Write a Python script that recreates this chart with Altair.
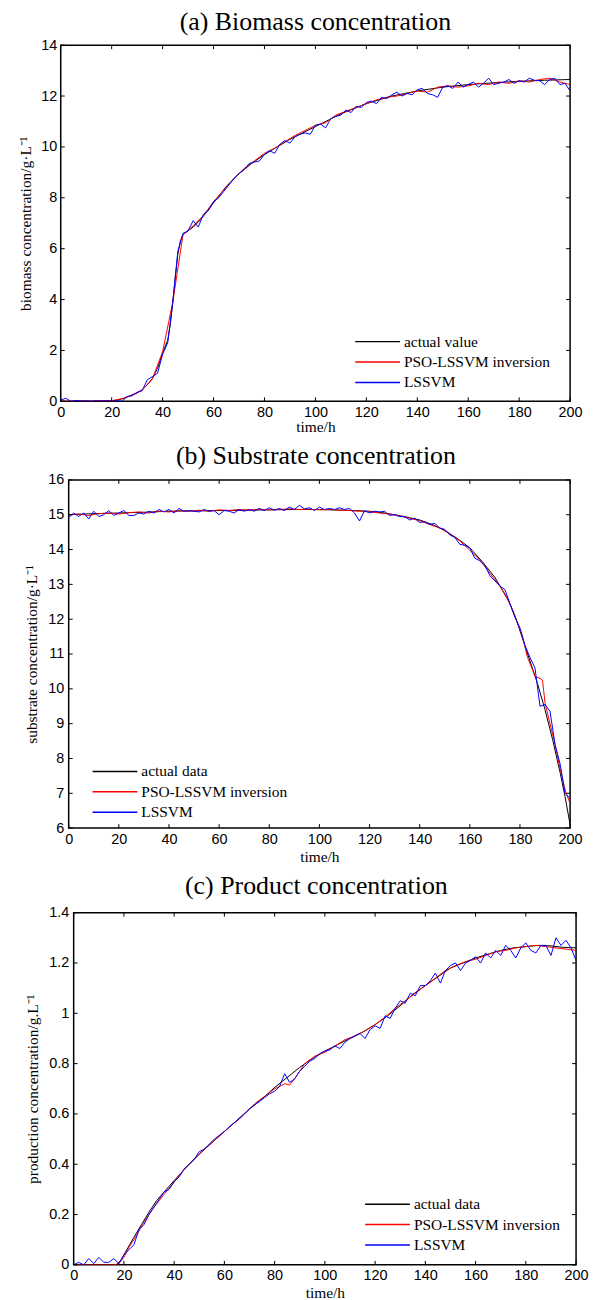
import altair as alt
import pandas as pd

X_TICKS = [0, 20, 40, 60, 80, 100, 120, 140, 160, 180, 200]
COLORS = ["#000000", "#ff0000", "#0000ff"]
NAMES_A = ["actual value", "PSO-LSSVM inversion", "LSSVM"]
NAMES_BC = ["actual data", "PSO-LSSVM inversion", "LSSVM"]

# ---------------- (a) biomass ----------------
A_Y_TICKS = [0, 2, 4, 6, 8, 10, 12, 14]
A_ACT_T = [0, 10, 20, 22, 25, 28, 30, 32, 34, 36, 38, 40, 42, 43, 44, 45, 46, 47, 48, 50,
           52, 55, 57, 60, 65, 70, 75, 80, 85, 90, 95, 100, 105, 110, 115, 120, 125, 130, 135, 140,
           150, 160, 170, 180, 190, 200]
A_ACT_V = [0, 0, 0.02, 0.05, 0.12, 0.25, 0.33, 0.45, 0.65, 0.9, 1.3, 1.9, 2.4, 3.0, 3.9, 4.9, 5.8, 6.3, 6.55, 6.7,
           6.85, 7.15, 7.4, 7.8, 8.45, 8.95, 9.35, 9.7, 10.0, 10.3, 10.55, 10.8, 11.05, 11.3, 11.5, 11.7, 11.85, 12.0, 12.1, 12.2,
           12.35, 12.45, 12.52, 12.58, 12.62, 12.65]
A_PSO_T = list(range(0, 201, 4))
A_PSO_V = [0.0, 0.0, 0.02, 0.0, 0.03, 0.02, 0.1, 0.25, 0.45, 0.88,
           1.95, 3.9, 6.55, 6.9, 7.3, 7.85, 8.3, 8.75, 9.15, 9.45,
           9.75, 9.95, 10.2, 10.45, 10.65, 10.85, 10.95, 11.25, 11.4, 11.55,
           11.7, 11.85, 11.95, 12.0, 12.1, 12.2, 12.15, 12.35, 12.4, 12.35,
           12.4, 12.5, 12.45, 12.55, 12.5, 12.6, 12.55, 12.65, 12.7, 12.55,
           12.45]
A_LS_T = list(range(0, 201, 2))
A_LS_V = [0.05, 0.12, 0.0, 0.03, 0.01, 0.02, 0.0, 0.02, 0.01, 0.03,
          0.0, 0.03, 0.0, 0.18, 0.22, 0.35, 0.42, 0.85, 0.97, 1.1,
          1.85, 2.3, 3.9, 5.9, 6.6, 6.7, 7.1, 6.85, 7.35, 7.5,
          7.85, 8.0, 8.25, 8.5, 8.75, 8.95, 9.1, 9.35, 9.4, 9.45,
          9.7, 9.85, 9.75, 10.1, 10.25, 10.15, 10.4, 10.5, 10.55, 10.5,
          10.85, 10.9, 10.75, 11.1, 11.2, 11.25, 11.45, 11.35, 11.6, 11.55,
          11.75, 11.8, 11.7, 11.95, 11.9, 12.05, 12.15, 12.0, 12.1, 12.05,
          12.25, 12.3, 12.1, 12.05, 11.95, 12.35, 12.4, 12.3, 12.55, 12.35,
          12.45, 12.55, 12.35, 12.5, 12.7, 12.45, 12.5, 12.55, 12.65, 12.5,
          12.6, 12.55, 12.7, 12.62, 12.6, 12.45, 12.65, 12.7, 12.45, 12.5,
          12.2]

# ---------------- (b) substrate ----------------
B_Y_TICKS = [6, 7, 8, 9, 10, 11, 12, 13, 14, 15, 16]
B_ACT_T = [0, 10, 20, 30, 40, 50, 60, 70, 80, 90, 100, 110, 120, 125, 130, 135, 140, 145, 150, 155,
           160, 165, 170, 175, 178, 181, 184, 187, 190, 193, 196, 198, 200]
B_ACT_V = [15.0, 15.03, 15.05, 15.07, 15.1, 15.11, 15.12, 15.13, 15.14, 15.15,
           15.15, 15.13, 15.1, 15.06, 15.0, 14.93, 14.85, 14.72, 14.55, 14.32,
           14.05, 13.65, 13.2, 12.6, 12.1, 11.45, 10.8, 10.15, 9.4, 8.55,
           7.6, 6.9, 6.1]
B_PSO_T = [0, 4, 8, 12, 16, 20, 24, 28, 32, 36, 40, 44, 48, 52, 56, 60, 64, 68, 72, 76,
           80, 84, 88, 92, 96, 100, 104, 108, 112, 116, 120, 124, 128, 132, 136, 140, 144, 148, 152, 156,
           160, 164, 168, 172, 176, 179, 181, 183, 185, 186, 188, 189, 190, 192, 194, 196, 198, 200]
B_PSO_V = [15.0, 15.02, 14.98, 15.03, 15.05, 15.02, 15.06, 15.08, 15.05, 15.1,
           15.08, 15.12, 15.1, 15.13, 15.1, 15.14, 15.12, 15.15, 15.13, 15.16,
           15.14, 15.15, 15.17, 15.15, 15.16, 15.14, 15.15, 15.13, 15.12, 15.1,
           15.08, 15.05, 15.02, 14.96, 14.9, 14.83, 14.72, 14.62, 14.45, 14.25,
           13.98, 13.7, 13.32, 12.95, 12.45, 11.9, 11.5, 10.9, 10.55, 10.35,
           10.3, 10.25, 9.6, 9.0, 8.4, 7.7, 7.1, 6.7]
B_LS_T = list(range(0, 201, 2))
B_LS_V = [14.92, 15.05, 14.95, 15.05, 14.88, 15.1, 14.95, 15.0, 15.12, 14.98,
          15.05, 15.12, 14.98, 14.98, 15.05, 15.02, 15.1, 15.05, 15.15, 15.08,
          15.15, 15.05, 15.18, 15.1, 15.12, 15.1, 15.08, 15.15, 15.1, 15.12,
          15.0, 15.12, 15.1, 15.05, 15.15, 15.1, 15.15, 15.1, 15.18, 15.12,
          15.2, 15.13, 15.18, 15.12, 15.22, 15.15, 15.27, 15.17, 15.2, 15.12,
          15.22, 15.15, 15.18, 15.15, 15.2, 15.15, 15.18, 15.05, 14.82, 15.12,
          15.05, 15.1, 15.08, 15.1, 14.98, 15.0, 14.95, 14.95, 14.85, 14.9,
          14.78, 14.8, 14.72, 14.75, 14.62, 14.58, 14.42, 14.35, 14.15, 14.12,
          14.05, 13.75, 13.68, 13.55, 13.25, 13.1, 12.95, 12.85, 12.45, 12.05,
          11.75, 11.25, 10.9, 10.6, 9.5, 9.55, 9.35, 8.4, 7.85, 7.0,
          6.85]

# ---------------- (c) product ----------------
C_Y_TICKS = [0, 0.2, 0.4, 0.6, 0.8, 1, 1.2, 1.4]
C_ACT_T = [0, 10, 17, 19, 20, 22, 24, 27, 30, 33, 36, 40, 45, 50, 55, 60, 65, 70, 75, 80,
           85, 90, 95, 100, 105, 110, 115, 120, 125, 130, 135, 140, 145, 150, 155, 160, 165, 170, 175, 180,
           185, 190, 195, 200]
C_ACT_V = [0, 0, 0, 0.02, 0.04, 0.075, 0.11, 0.16, 0.21, 0.255,
           0.29, 0.335, 0.39, 0.44, 0.485, 0.53, 0.575, 0.62, 0.66, 0.705,
           0.745, 0.785, 0.82, 0.85, 0.875, 0.9, 0.925, 0.955, 0.99, 1.03,
           1.075, 1.11, 1.145, 1.18, 1.2, 1.22, 1.235, 1.25, 1.26, 1.265,
           1.27, 1.268, 1.262, 1.26]
C_PSO_T = [0, 4, 8, 12, 16, 18, 20, 22, 24, 28, 32, 36, 40, 44, 48, 52, 56, 60, 64, 68,
           72, 76, 80, 84, 86, 88, 92, 96, 100, 104, 108, 112, 116, 120, 124, 128, 132, 136, 140, 144,
           148, 152, 156, 160, 164, 168, 172, 176, 180, 184, 188, 192, 196, 200]
C_PSO_V = [0, 0, 0, 0, 0, 0.005, 0.03, 0.07, 0.1, 0.17,
           0.23, 0.28, 0.33, 0.38, 0.42, 0.46, 0.495, 0.53, 0.565, 0.6,
           0.64, 0.67, 0.7, 0.72, 0.715, 0.74, 0.8, 0.83, 0.845, 0.87,
           0.895, 0.91, 0.93, 0.955, 0.985, 1.02, 1.05, 1.08, 1.11, 1.14,
           1.17, 1.19, 1.205, 1.215, 1.23, 1.245, 1.25, 1.26, 1.265, 1.27,
           1.265, 1.26, 1.255, 1.25]
C_LS_T = list(range(0, 201, 2))
C_LS_V = [0.0, 0.01, 0.0, 0.025, 0.005, 0.03, 0.01, 0.01, 0.025, 0.005,
          0.04, 0.06, 0.08, 0.14, 0.16, 0.2, 0.23, 0.26, 0.29, 0.3,
          0.33, 0.35, 0.38, 0.4, 0.42, 0.45, 0.46, 0.48, 0.5, 0.515,
          0.53, 0.55, 0.565, 0.58, 0.6, 0.62, 0.635, 0.65, 0.665, 0.68,
          0.69, 0.71, 0.76, 0.725, 0.74, 0.77, 0.79, 0.81, 0.82, 0.84,
          0.85, 0.855, 0.87, 0.86, 0.885, 0.9, 0.91, 0.92, 0.9, 0.935,
          0.95, 0.94, 0.99, 0.98, 1.02, 1.05, 1.04, 1.08, 1.07, 1.11,
          1.11, 1.13, 1.16, 1.12, 1.17, 1.19, 1.2, 1.17, 1.2, 1.21,
          1.225, 1.2, 1.24, 1.22, 1.25, 1.23, 1.27, 1.25, 1.22, 1.26,
          1.28, 1.25, 1.24, 1.27, 1.27, 1.23, 1.3, 1.27, 1.29, 1.26,
          1.21]

SERIF = "Liberation Serif"
SANS = "Liberation Sans"


def panel(title, title_dx, title_offset, y_title, names, series, y_domain, y_ticks,
          width, height, legend_x, legend_y, y_label_pad, y_title_pad, x_title_pad):
    xs = alt.Scale(domain=[0, 200], nice=False, zero=False)
    ys = alt.Scale(domain=y_domain, nice=False, zero=False)
    x_axis = alt.Axis(values=X_TICKS, title="time/h", grid=False, ticks=False, tickSize=0,
                      domain=False, labelFont=SANS, labelFontSize=14.5, labelColor="black",
                      labelPadding=4, labelFlush=False, labelOverlap=False,
                      titleFont=SERIF, titleFontSize=15.5, titleFontWeight="normal",
                      titleColor="black", titlePadding=x_title_pad)
    y_axis = alt.Axis(values=y_ticks, title=y_title, format="~g", grid=False, ticks=False,
                      tickSize=0, domain=False, labelFont=SANS, labelFontSize=14.5,
                      labelColor="black", labelPadding=y_label_pad, labelOverlap=False,
                      titleFont=SERIF, titleFontSize=15.5, titleFontWeight="normal",
                      titleColor="black", titlePadding=y_title_pad)
    color = alt.Color("series:N",
                      scale=alt.Scale(domain=names, range=COLORS),
                      legend=alt.Legend(title=None, orient="none", legendX=legend_x,
                                        legendY=legend_y, symbolType="stroke",
                                        symbolSize=2025, symbolStrokeWidth=1.5,
                                        labelFont=SERIF, labelFontSize=15.5,
                                        labelColor="black", labelLimit=0, labelOffset=3,
                                        clipHeight=20, rowPadding=0.5, padding=0))
    xt = pd.DataFrame({"tick": X_TICKS})
    yt = pd.DataFrame({"tick": y_ticks})
    tick_style = dict(color="black", strokeWidth=1)
    bottom = alt.Chart(xt).mark_rule(**tick_style).encode(
        x=alt.X("tick:Q", scale=xs, axis=x_axis), y=alt.value(height), y2=alt.value(height - 4))
    top = alt.Chart(xt).mark_rule(**tick_style).encode(
        x=alt.X("tick:Q", scale=xs, axis=x_axis), y=alt.value(0), y2=alt.value(4))
    left = alt.Chart(yt).mark_rule(**tick_style).encode(
        y=alt.Y("tick:Q", scale=ys, axis=y_axis), x=alt.value(0), x2=alt.value(4))
    right = alt.Chart(yt).mark_rule(**tick_style).encode(
        y=alt.Y("tick:Q", scale=ys, axis=y_axis), x=alt.value(width - 4), x2=alt.value(width))
    layers = []
    for name, (ts, vs) in zip(names, series):
        df = pd.DataFrame({"t": ts, "v": vs, "series": name})
        layers.append(
            alt.Chart(df).mark_line(strokeWidth=1, clip=True).encode(
                x=alt.X("t:Q", scale=xs, axis=x_axis),
                y=alt.Y("v:Q", scale=ys, axis=y_axis),
                color=color,
            )
        )
    return alt.layer(*layers, bottom, top, left, right).properties(
        width=width, height=height,
        title=alt.TitleParams(text=title, font=SERIF, fontSize=26, fontWeight="normal",
                              color="black", anchor="middle", frame="group",
                              baseline="alphabetic", offset=title_offset, dx=title_dx),
    )


def spacer(w):
    return alt.Chart(pd.DataFrame({"z": [0]})).mark_point(opacity=0).encode(
        x=alt.X("z:Q", axis=None), y=alt.Y("z:Q", axis=None)
    ).properties(width=w, height=10, view=alt.ViewBackground(stroke="transparent"))


pa = panel("(a) Biomass concentration", 0, -19, "biomass concentration/g·L⁻¹", NAMES_A,
           [(A_ACT_T, A_ACT_V), (A_PSO_T, A_PSO_V), (A_LS_T, A_LS_V)],
           [0, 14], A_Y_TICKS, 512, 358, 295, 288, 4, 7, 1)
pb = panel("(b) Substrate concentration", -3.5, -18.5, "substrate concentration/g·L⁻¹", NAMES_BC,
           [(B_ACT_T, B_ACT_V), (B_PSO_T, B_PSO_V), (B_LS_T, B_LS_V)],
           [6, 16], B_Y_TICKS, 504, 350, 23, 283, 5, 8, 4)
pc = panel("(c) Product concentration", -8.5, -15.5, "production concentration/g.L⁻¹", NAMES_BC,
           [(C_ACT_T, C_ACT_V), (C_PSO_T, C_PSO_V), (C_LS_T, C_LS_V)],
           [0, 1.4], C_Y_TICKS, 505, 354, 292, 283, 5, 8.5, 3)


def row(w, p):
    return alt.hconcat(spacer(w), p, spacing=0).resolve_scale(
        color="independent").resolve_legend(color="independent")


chart = alt.vconcat(row(8, pa), row(14, pb), row(14, pc), spacing=6).resolve_scale(
    color="independent").resolve_legend(color="independent").properties(
    padding={"left": 0, "top": -3, "right": 0, "bottom": 0}
).configure_view(stroke="black", strokeWidth=1.5)

chart.save("out.html", embed_options={"renderer": "svg", "actions": False})
